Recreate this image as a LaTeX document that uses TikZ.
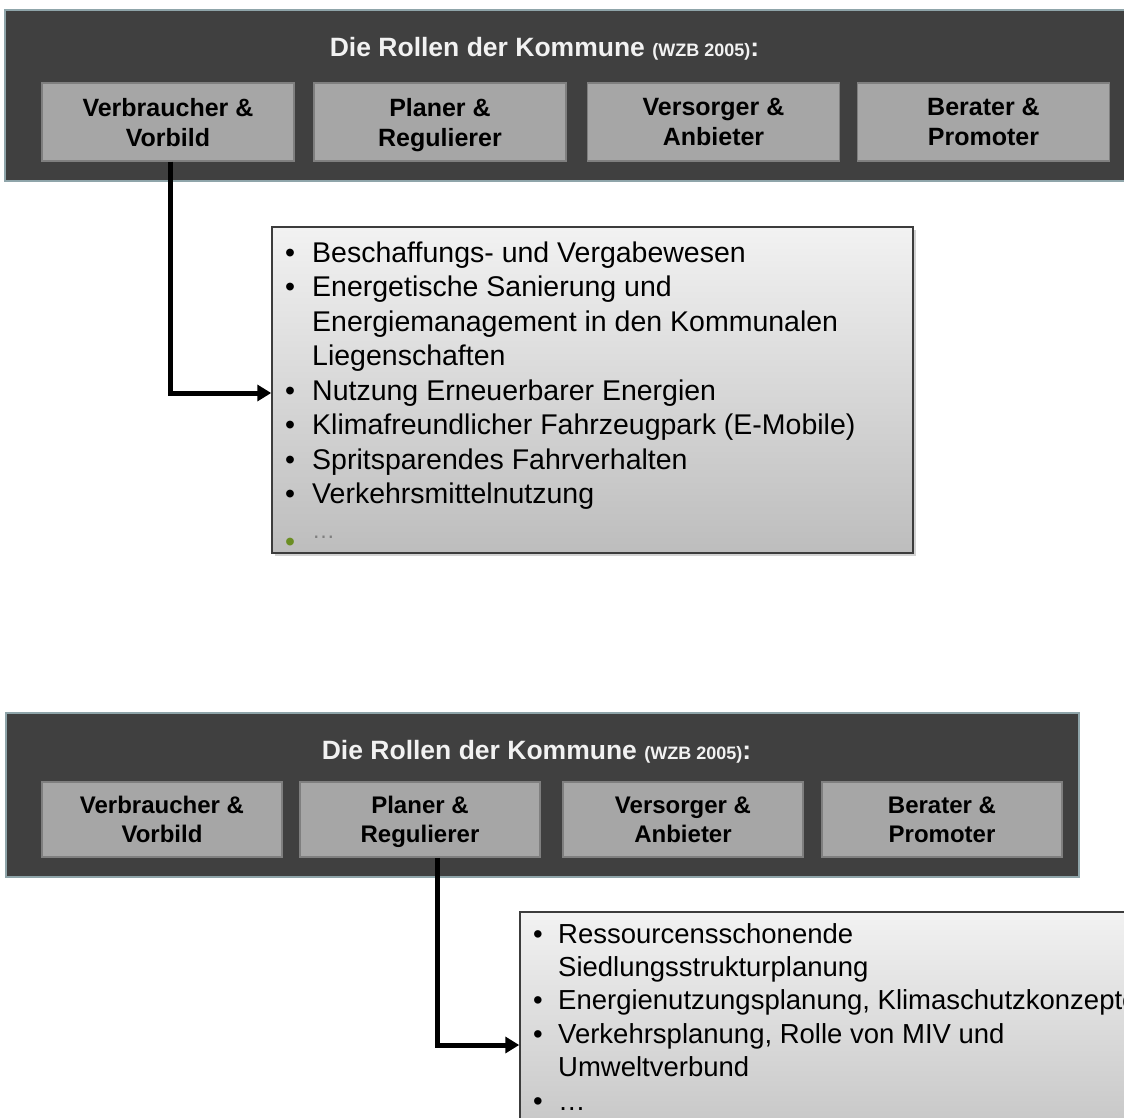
\documentclass[tikz,border=0pt]{standalone}
\usepackage{fontspec}
\setmainfont{Liberation Sans}
\usetikzlibrary{arrows.meta,shadows}
\definecolor{panelfill}{HTML}{404040}
\definecolor{panelline}{HTML}{8FA5AA}
\definecolor{rolefill}{HTML}{A6A6A6}
\definecolor{roleline}{HTML}{7F7F7F}
\definecolor{titlecol}{HTML}{F2F2F2}
\definecolor{listtop}{HTML}{F2F2F2}
\definecolor{listbot}{HTML}{BDBDBD}
\definecolor{listline}{HTML}{3C3C3C}
\definecolor{dotgreen}{HTML}{6B8E23}
\definecolor{dotgrey}{HTML}{7F7F7F}
\begin{document}
\begin{tikzpicture}[x=1pt,y=-1pt,
  panel/.style={draw=panelline,fill=panelfill,line width=2pt,inner sep=0pt,rectangle},
  rolebox/.style={draw=roleline,fill=rolefill,line width=1.5pt,inner sep=0pt,align=center,text depth=0pt,
    font=\bfseries\fontsize{25}{30}\selectfont},
  rolesmall/.style={font=\bfseries\fontsize{24}{29}\selectfont},
  listbox/.style={draw=listline,line width=1.5pt,top color=listtop,bottom color=listbot,inner sep=0pt,
    drop shadow={opacity=0.35,shadow xshift=3pt,shadow yshift=-3pt}},
  listtext/.style={anchor=north west,inner sep=0pt},
  titletext/.style={text=titlecol,anchor=base,inner sep=0pt,font=\bfseries\fontsize{26.5}{30}\selectfont},
  conn/.style={line width=5pt,-{Triangle[length=14pt,width=16pt]}}]
\useasboundingbox (0,0) rectangle (1124,1118);
\clip (0,0) rectangle (1124,1118);
\fill[white] (0,0) rectangle (1124,1118);

% ---------- upper panel ----------
\node[panel,minimum width=1124pt,minimum height=171pt] (p1) at (567,95.5) {};
\node[titletext] (t1) at (544.5,57) {Die Rollen der Kommune {\fontsize{18}{20}\selectfont (WZB 2005)}:};
\node[rolebox,minimum width=252pt,minimum height=78pt] (r1) at (168,122) {Verbraucher \&\\Vorbild};
\node[rolebox,minimum width=252pt,minimum height=78pt] (r2) at (440,122) {Planer \&\\Regulierer};
\node[rolebox,minimum width=252pt,minimum height=78pt] (r3) at (713.5,122) {Versorger \&\\Anbieter};
\node[rolebox,minimum width=252pt,minimum height=78pt] (r4) at (983.5,122) {Berater \&\\Promoter};

\node[listbox,minimum width=641pt,minimum height=326pt] (l1) at (592.5,390) {};
\node[listtext] (l1t) at (285,237.85) {\fontsize{28.5}{34.5}\selectfont
\begin{tabular}{@{}p{27pt}@{}l@{}}
• & Beschaffungs- und Vergabewesen\\
• & Energetische Sanierung und\\
  & Energiemanagement in den Kommunalen\\
  & Liegenschaften\\
• & Nutzung Erneuerbarer Energien\\
• & Klimafreundlicher Fahrzeugpark (E-Mobile)\\
• & Spritsparendes Fahrverhalten\\
• & Verkehrsmittelnutzung\\
{\color{dotgreen}•} & {\color{dotgrey}\fontsize{23}{24}\selectfont …}
\end{tabular}};

\draw[conn] ([xshift=2pt]r1.south) |- ([yshift=-3pt]l1.west);

% ---------- lower panel ----------
\node[panel,minimum width=1073pt,minimum height=164pt] (p2) at (542.5,795) {};
\node[titletext] (t2) at (536.5,759) {Die Rollen der Kommune {\fontsize{18}{20}\selectfont (WZB 2005)}:};
\node[rolebox,rolesmall,minimum width=240pt,minimum height=75pt] (r5) at (162,819.5) {Verbraucher \&\\Vorbild};
\node[rolebox,rolesmall,minimum width=240pt,minimum height=75pt] (r6) at (420,819.5) {Planer \&\\Regulierer};
\node[rolebox,rolesmall,minimum width=240pt,minimum height=75pt] (r7) at (683,819.5) {Versorger \&\\Anbieter};
\node[rolebox,rolesmall,minimum width=240pt,minimum height=75pt] (r8) at (942,819.5) {Berater \&\\Promoter};

\node[listbox,minimum width=680pt,minimum height=266pt] (l2) at (860,1045) {};
\node[listtext] (l2t) at (533,919.6) {\fontsize{27.5}{33.4}\selectfont
\begin{tabular}{@{}p{25pt}@{}l@{}}
• & Ressourcensschonende\\
  & Siedlungsstrukturplanung\\
• & Energienutzungsplanung, Klimaschutzkonzepte\\
• & Verkehrsplanung, Rolle von MIV und\\
  & Umweltverbund\\
• & …
\end{tabular}};

\draw[conn] ([xshift=17.5pt]r6.south) |- (l2.west);
\end{tikzpicture}
\end{document}
